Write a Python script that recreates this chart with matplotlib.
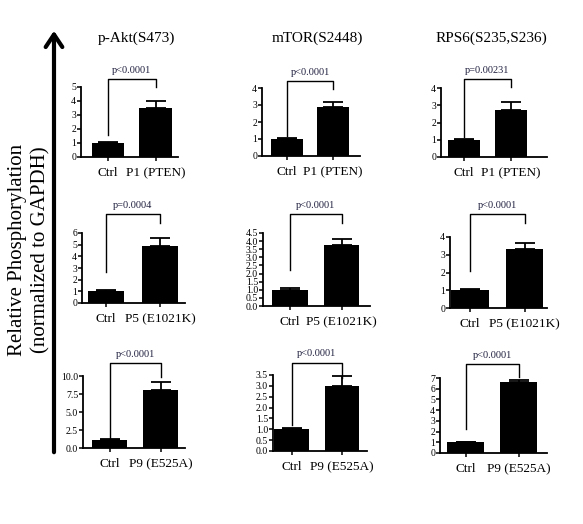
import numpy as np
import matplotlib
matplotlib.use("Agg")
import matplotlib.pyplot as plt
from matplotlib.patches import FancyArrowPatch

plt.rcParams['font.family'] = ['Liberation Serif', 'DejaVu Serif']

titles = ["p-Akt(S473)", "mTOR(S2448)", "RPS6(S235,S236)"]
mutants = ["P1 (PTEN)", "P5 (E1021K)", "P9 (E525A)"]

# rows = patients, columns = phospho-proteins
ctrl_mean = [[1.0, 1.0, 1.0], [1.0, 1.0, 1.0], [1.1, 1.03, 1.0]]
ctrl_err = [[0.05, 0.04, 0.04], [0.1, 0.1, 0.08], [0.1, 0.03, 0.0]]
mut_mean = [[3.5, 2.9, 2.75], [4.9, 3.75, 3.35], [8.1, 3.0, 6.6]]
mut_err = [[0.5, 0.3, 0.45], [0.7, 0.35, 0.3], [1.0, 0.45, 0.2]]

p_text = [["p<0.0001", "p<0.0001", "p=0.00231"],
          ["p=0.0004", "p<0.0001", "p<0.0001"],
          ["p<0.0001", "p<0.0001", "p<0.0001"]]

# bracket: top, left leg end, right leg end
bracket = [[(5.57, 1.57, 5.0), (4.43, 1.18, 3.94), (4.52, 1.16, 4.06)],
           [(7.6, 2.68, 6.83), (5.68, 2.22, 5.12), (5.3, 2.08, 4.79)],
           [(11.85, 1.3, 9.9), (4.07, 1.2, 3.35), (8.29, 2.2, 7.13)]]

ymax = [[5, 4, 4], [6, 4.5, 4], [10, 3.5, 7]]
ystep = [[1, 1, 1], [1, 0.5, 1], [2.5, 0.5, 1]]
ydec = [[0, 0, 0], [0, 1, 0], [1, 1, 0]]

W, H = 583, 524
# pixel layout: axis x, axis end, ctrl center, mutant center, top y, zero y
boxes = [[(81, 178, 108, 155.5, 87, 157), (262, 360, 287, 333, 88, 156), (441, 547, 464, 511, 88, 157)],
         [(82, 185, 106, 160, 233, 303), (263, 370, 290, 341.5, 233, 306), (450, 547, 470, 524.5, 237, 308)],
         [(83, 185, 109.5, 160.5, 376, 448), (273, 367, 291.5, 342, 375, 451), (440, 547, 465.5, 518.5, 378, 453)]]
title_x = [136, 317, 491]

fig = plt.figure(figsize=(W / 100, H / 100), dpi=100)

for r in range(3):
    for c in range(3):
        x0, x1, c0, c1, yt, y0 = boxes[r][c]
        ax = fig.add_axes([x0 / W, 1 - y0 / H, (x1 - x0) / W, (y0 - yt) / H])
        unit = c1 - c0
        vals = [ctrl_mean[r][c], mut_mean[r][c]]
        errs = [ctrl_err[r][c], mut_err[r][c]]
        ax.bar([0, 1], vals, width=0.68, color='black', zorder=2)
        ax.errorbar([0, 1], vals, yerr=[[0, 0], errs], fmt='none', ecolor='black',
                    elinewidth=1.3, capsize=7, capthick=1.3, zorder=1, clip_on=False)
        ax.set_xlim((x0 - c0) / unit, 1 + (x1 - c1) / unit)
        ax.set_ylim(0, ymax[r][c])
        ticks = np.arange(0, ymax[r][c] + ystep[r][c] / 2, ystep[r][c])
        ax.set_yticks(ticks)
        ax.set_yticklabels([f"{t:.{ydec[r][c]}f}" for t in ticks])
        ax.set_xticks([0, 1])
        ax.set_xticklabels(["Ctrl", mutants[r]])
        for s in ['top', 'right']:
            ax.spines[s].set_visible(False)
        for s in ['left', 'bottom']:
            ax.spines[s].set_linewidth(1.3)
        ax.tick_params(axis='y', labelsize=7, length=3, width=1.1, pad=0.5)
        ax.tick_params(axis='x', labelsize=9.5, length=3, width=1.1, pad=4.5)

        top, lft, rgt = bracket[r][c]
        ax.plot([0, 0, 1, 1], [lft, top, top, rgt], color='black', lw=1, clip_on=False)
        ax.annotate(p_text[r][c], (0.5, top), xytext=(0, 3), textcoords='offset points',
                    ha='center', va='bottom', fontsize=7.5, color='#202040',
                    annotation_clip=False)

for c in range(3):
    fig.text(title_x[c] / W, 1 - 38 / H, titles[c], ha='center', va='center', fontsize=11)

fig.text(18 / W, 1 - 250 / H, "Relative Phosphorylation", rotation=90,
         ha='center', va='center', fontsize=15)
fig.text(41 / W, 1 - 250 / H, "(normalized to GAPDH)", rotation=90,
         ha='center', va='center', fontsize=15)

arrow = FancyArrowPatch((54 / W, 1 - 455 / H), (54 / W, 1 - 28 / H), transform=fig.transFigure,
                        arrowstyle='->,head_length=0.45,head_width=0.3', mutation_scale=20,
                        lw=3, color='black')
fig.patches.append(arrow)

fig.savefig("out.png", dpi=100)
